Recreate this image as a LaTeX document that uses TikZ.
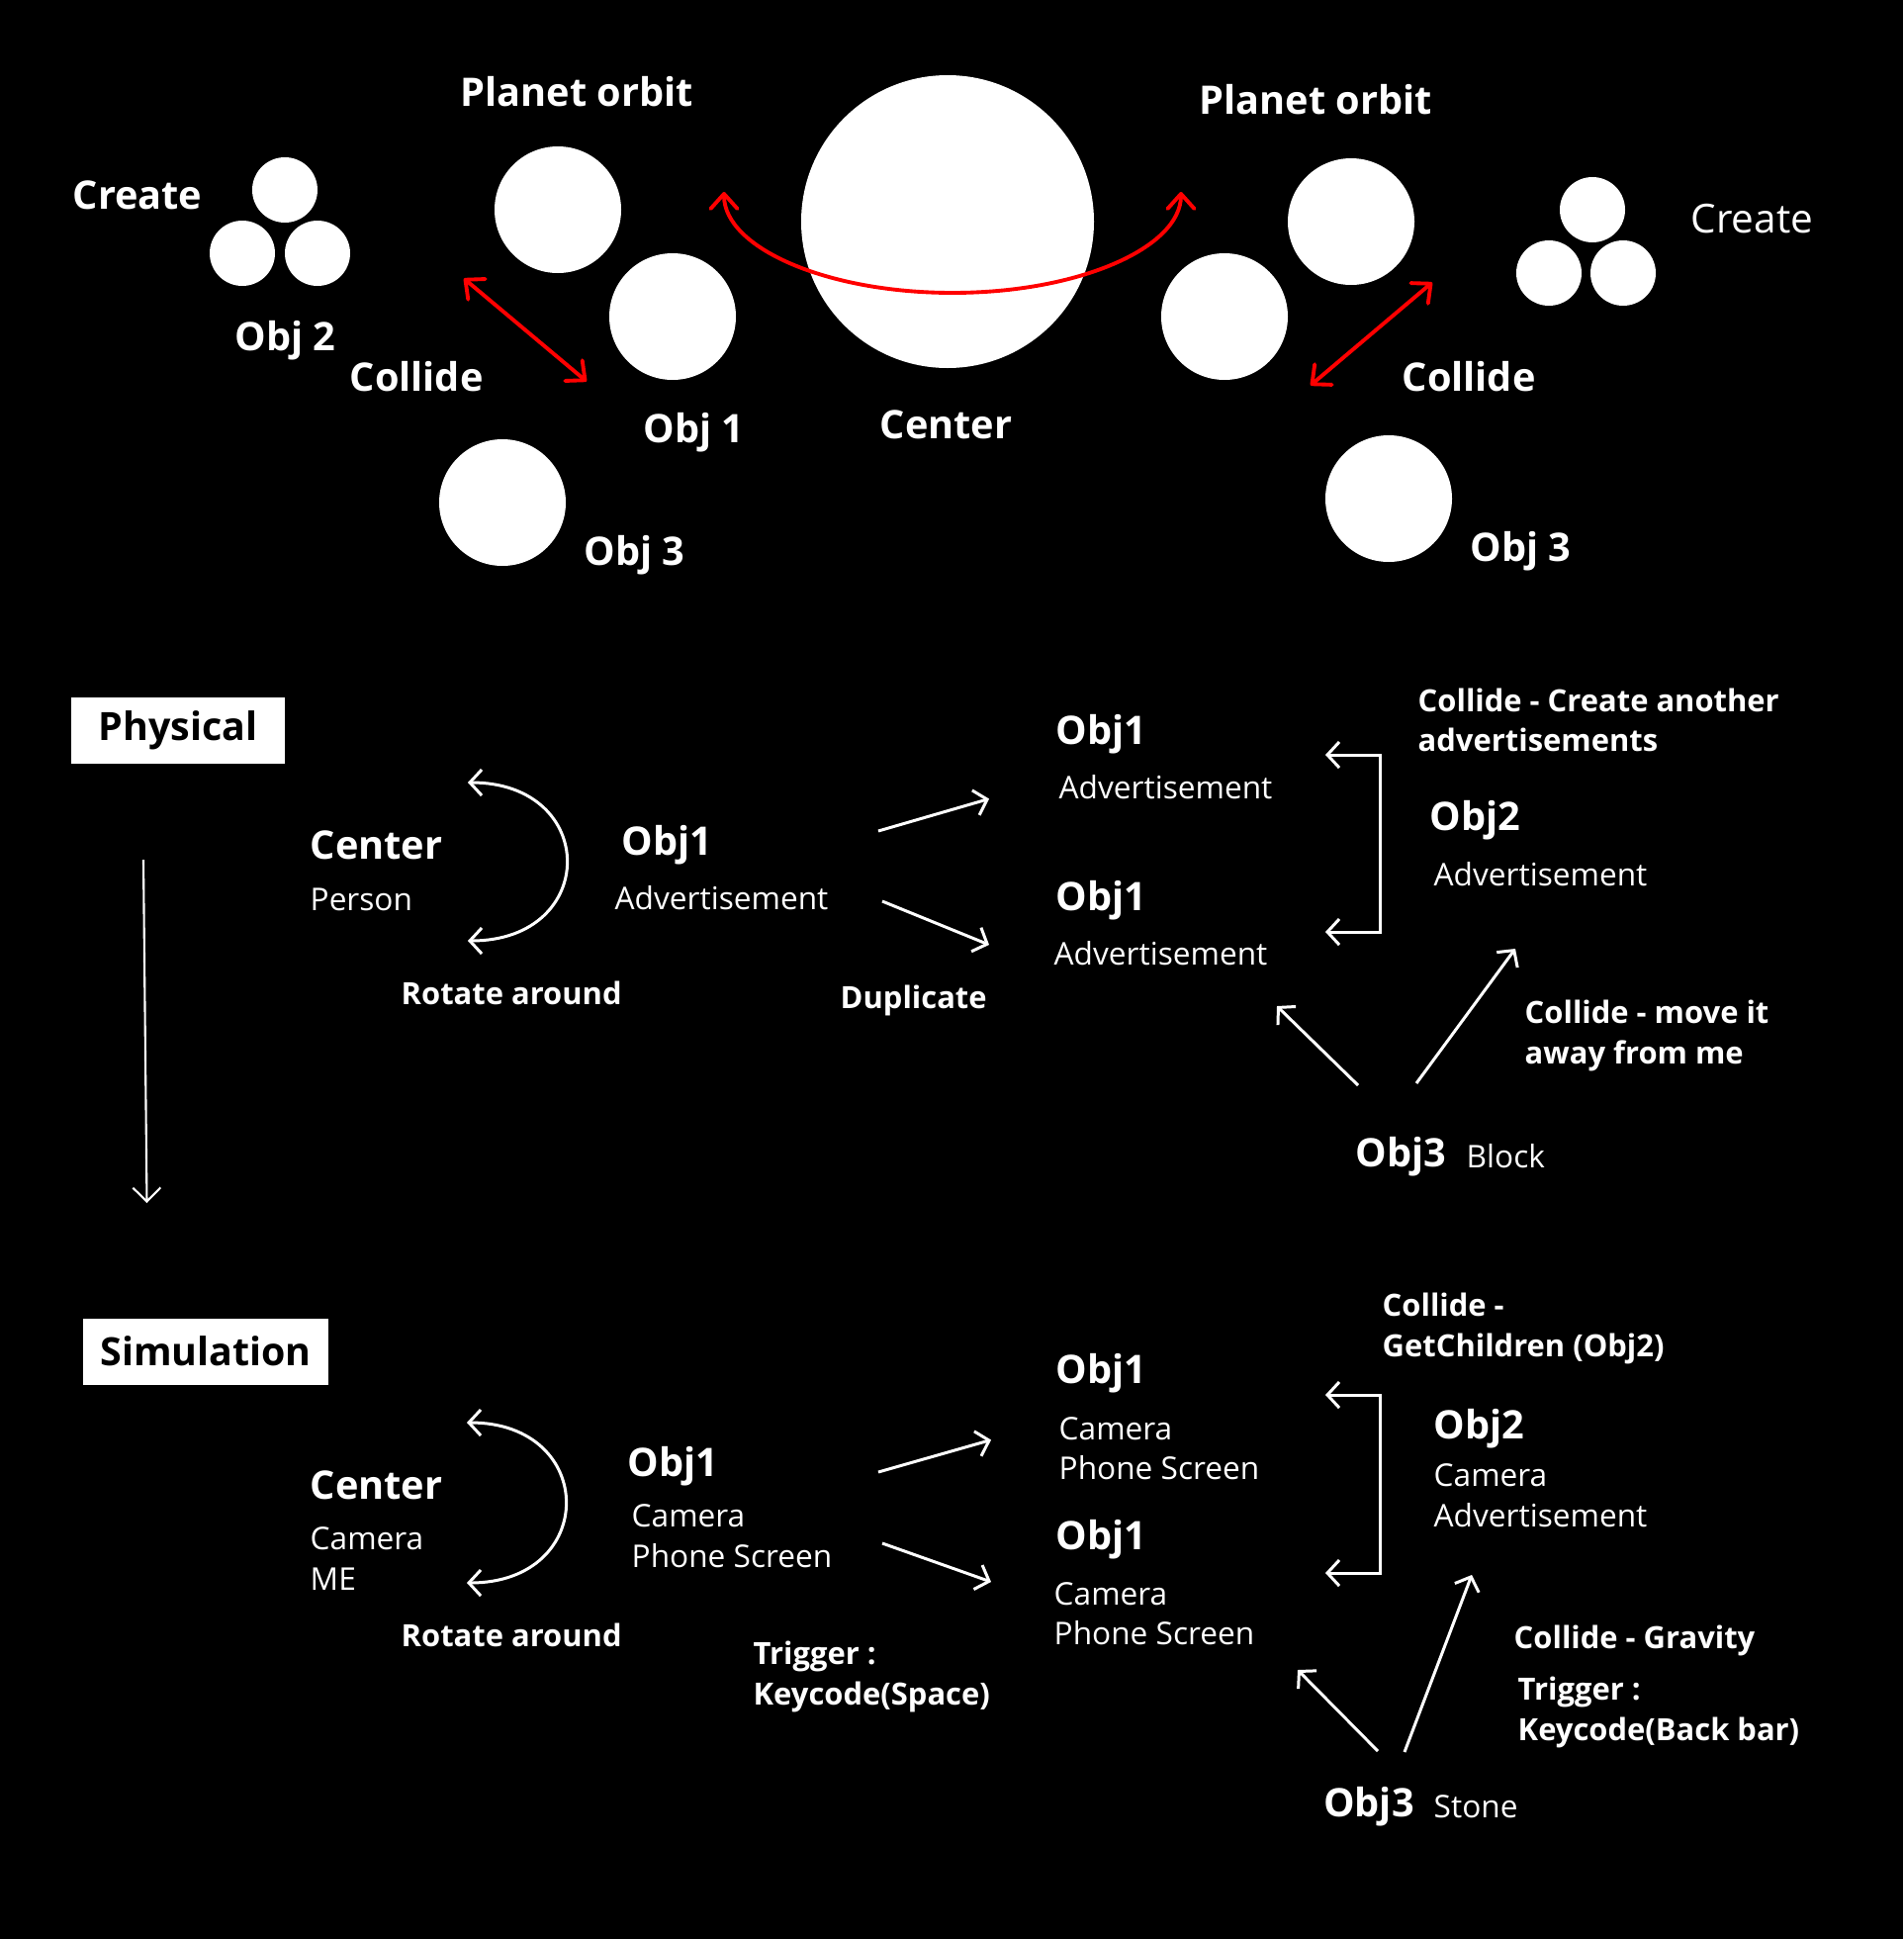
\documentclass[tikz,border=0pt]{standalone}
\usepackage{fontspec}
\setmainfont{Open Sans}
\definecolor{orbitred}{RGB}{255,0,0}
\usetikzlibrary{arrows.meta,positioning}

\begin{document}
\begin{tikzpicture}[
    big/.style={text=white, inner sep=0, anchor=base west, font=\fontsize{11.3}{14}\selectfont\bfseries},
    bigthin/.style={big, font=\fontsize{11.5}{14}\selectfont},
    note/.style={text=white, inner sep=0, anchor=base west, align=left, font=\fontsize{8.8}{11.4}\selectfont\bfseries},
    desc/.style={note, font=\fontsize{9}{11.4}\selectfont},
    ball/.style={circle, fill=white, inner sep=0, minimum size=1.28cm},
    pebble/.style={circle, fill=white, inner sep=0, minimum size=0.66cm},
    modebox/.style={fill=white, text=black, inner xsep=0.1cm, minimum height=0.67cm, font=\fontsize{11.2}{14}\selectfont\bfseries},
    flow/.style={white, line width=0.85pt, -{Straight Barb[length=1.2mm, width=2.6mm]}},
    twoway/.style={white, line width=0.85pt, {Straight Barb[length=1.2mm, width=2.6mm]}-{Straight Barb[length=1.2mm, width=2.6mm]}},
    orbitarrow/.style={orbitred, line width=1.1pt, line cap=round,
      {Straight Barb[round, length=1.5mm, width=2.7mm]}-{Straight Barb[round, length=1.5mm, width=2.7mm]}}
  ]
  \useasboundingbox (0,0) rectangle (19.24,-19.60);
  \fill[black] (0,0) rectangle (19.24,-19.60);

  % planets
  \node[ball, minimum size=2.96cm] (center) at (9.58,-2.24) {};
  \node[ball] (planetL) at (5.64,-2.12) {};
  \node[ball] (objoneL) at (6.80,-3.20) {};
  \node[ball] (objthreeL) at (5.08,-5.08) {};
  \node[ball] (planetR) at (13.66,-2.24) {};
  \node[ball] (objoneR) at (12.38,-3.20) {};
  \node[ball] (objthreeR) at (14.04,-5.04) {};
  \foreach \x/\y [count=\i] in {2.88/1.92, 2.45/2.56, 3.21/2.56, 16.10/2.12, 15.66/2.76, 16.41/2.76}
    \node[pebble] (pebble\i) at (\x,-\y) {};

  \node[big] (createL) at (0.73,-2.11) {Create};
  \node[big] (objtwoLbl) at (2.37,-3.54) {Obj 2};
  \node[big] (orbitL) at (4.65,-1.07) {Planet orbit};
  \node[big] (collideL) at (3.53,-3.95) {Collide};
  \node[big] (objoneLbl) at (6.50,-4.47) {Obj 1};
  \node[big] (objthreeLblL) at (5.90,-5.71) {Obj 3};
  \node[big] (centerLbl) at (8.89,-4.43) {Center};
  \node[big] (orbitR) at (12.12,-1.15) {Planet orbit};
  \node[big] (collideR) at (14.17,-3.95) {Collide};
  \node[bigthin] (createR) at (17.09,-2.35) {Create};
  \node[big] (objthreeLblR) at (14.86,-5.67) {Obj 3};

  \coordinate (hitLa) at (4.69,-2.815);
  \coordinate (hitLb) at (5.93,-3.855);
  \coordinate (hitRa) at (13.25,-3.895);
  \coordinate (hitRb) at (14.48,-2.855);
  \coordinate (orbitstart) at (7.32,-1.94);
  \draw[orbitarrow] (hitLa) -- (hitLb);
  \draw[orbitarrow] (hitRa) -- (hitRb);
  \draw[orbitarrow] (orbitstart) arc[start angle=180, end angle=360, x radius=2.31, y radius=1.02];

  % physical
  \node[modebox, minimum width=2.16cm] (physical) at (1.80,-7.38) {Physical};
  \coordinate (downtop) at (1.45,-8.69);
  \coordinate (downend) at (1.485,-12.16);
  \draw[white, line width=0.6pt, -{Straight Barb[length=1.4mm, width=2.8mm]}] (downtop) -- (downend);

  \node[big] (centerA) at (3.13,-8.68) {Center};
  \node[desc] (personA) at (3.13,-9.20) {Person};
  \coordinate (spinAtop) at (4.73,-7.91);
  \coordinate (spinAbot) at (4.73,-9.51);
  \draw[twoway] (spinAtop) .. controls (6.06,-7.91) and (6.06,-9.51) .. (spinAbot);
  \node[note] (rotateA) at (4.05,-10.15) {Rotate around};
  \node[big] (objoneA) at (6.28,-8.64) {Obj1};
  \node[desc] (advA) at (6.21,-9.195) {Advertisement};

  \coordinate (dupAfrom) at (8.88,-8.40);
  \coordinate (dupAto) at (10.00,-8.075);
  \coordinate (dupBfrom) at (8.92,-9.11);
  \coordinate (dupBto) at (10.00,-9.55);
  \draw[flow] (dupAfrom) -- (dupAto);
  \draw[flow] (dupBfrom) -- (dupBto);
  \node[note] (duplicate) at (8.49,-10.19) {Duplicate};

  \node[big] (objoneB) at (10.67,-7.52) {Obj1};
  \node[desc] (advB) at (10.70,-8.07) {Advertisement};
  \node[big] (objoneC) at (10.67,-9.20) {Obj1};
  \node[desc] (advC) at (10.65,-9.75) {Advertisement};

  \coordinate (brAtip) at (13.40,-7.63);
  \coordinate (brA) at (13.95,-7.63);
  \coordinate (brB) at (13.95,-9.42);
  \coordinate (brBtip) at (13.40,-9.42);
  \draw[twoway] (brAtip) -- (brA) -- (brB) -- (brBtip);

  % two-line labels sit on their last baseline
  \node[note] (collideA) at (14.33,-7.595) {Collide - Create another\\advertisements};
  \node[big] (objtwoA) at (14.45,-8.39) {Obj2};
  \node[desc] (advD) at (14.49,-8.95) {Advertisement};
  \node[note] (moveA) at (15.41,-10.75) {Collide - move it\\away from me};
  \node[big] (objthreeA) at (13.70,-11.79) {Obj3};
  \node[desc] (block) at (14.82,-11.80) {Block};
  \coordinate (pushLfrom) at (13.73,-10.97);
  \coordinate (pushLto) at (12.91,-10.17);
  \coordinate (pushRfrom) at (14.32,-10.95);
  \coordinate (pushRto) at (15.32,-9.59);
  \draw[flow] (pushLfrom) -- (pushLto);
  \draw[flow] (pushRfrom) -- (pushRto);

  % simulation
  \node[modebox, minimum width=2.48cm] (simulation) at (2.08,-13.66) {Simulation};
  \node[big] (centerS) at (3.13,-15.155) {Center};
  \node[desc] (cameraS) at (3.13,-16.07) {Camera\\ME};
  \coordinate (spinBtop) at (4.72,-14.38);
  \coordinate (spinBbot) at (4.72,-16.00);
  \draw[twoway] (spinBtop) .. controls (6.05,-14.38) and (6.05,-16.00) .. (spinBbot);
  \node[note] (rotateB) at (4.05,-16.64) {Rotate around};
  \node[big] (objoneS) at (6.34,-14.92) {Obj1};
  \node[desc] (phoneS) at (6.38,-15.84) {Camera\\Phone Screen};

  \coordinate (dupCfrom) at (8.88,-14.88);
  \coordinate (dupCto) at (10.02,-14.555);
  \coordinate (dupDfrom) at (8.92,-15.60);
  \coordinate (dupDto) at (10.02,-15.99);
  \draw[flow] (dupCfrom) -- (dupCto);
  \draw[flow] (dupDfrom) -- (dupDto);
  \node[note] (triggerS) at (7.61,-17.23) {Trigger :\\Keycode(Space)};

  \node[big] (objoneT) at (10.67,-13.98) {Obj1};
  \node[desc] (phoneT) at (10.70,-14.955) {Camera\\Phone Screen};
  \node[big] (objoneU) at (10.67,-15.66) {Obj1};
  \node[desc] (phoneU) at (10.65,-16.625) {Camera\\Phone Screen};

  \coordinate (brCtip) at (13.40,-14.10);
  \coordinate (brC) at (13.95,-14.10);
  \coordinate (brD) at (13.95,-15.90);
  \coordinate (brDtip) at (13.40,-15.90);
  \draw[twoway] (brCtip) -- (brC) -- (brD) -- (brDtip);

  \node[note] (collideS) at (13.97,-13.71) {Collide -\\GetChildren (Obj2)};
  \node[big] (objtwoS) at (14.49,-14.54) {Obj2};
  \node[desc] (camadv) at (14.49,-15.43) {Camera\\Advertisement};
  \node[note] (gravity) at (15.30,-16.66) {Collide - Gravity};
  \node[note] (triggerT) at (15.34,-17.59) {Trigger :\\Keycode(Back bar)};
  \node[big] (objthreeS) at (13.375,-18.36) {Obj3};
  \node[desc] (stone) at (14.49,-18.37) {Stone};
  \coordinate (dropLfrom) at (13.93,-17.70);
  \coordinate (dropLto) at (13.12,-16.88);
  \coordinate (dropRfrom) at (14.20,-17.71);
  \coordinate (dropRto) at (14.88,-15.92);
  \draw[flow] (dropLfrom) -- (dropLto);
  \draw[flow] (dropRfrom) -- (dropRto);
\end{tikzpicture}
\end{document}
